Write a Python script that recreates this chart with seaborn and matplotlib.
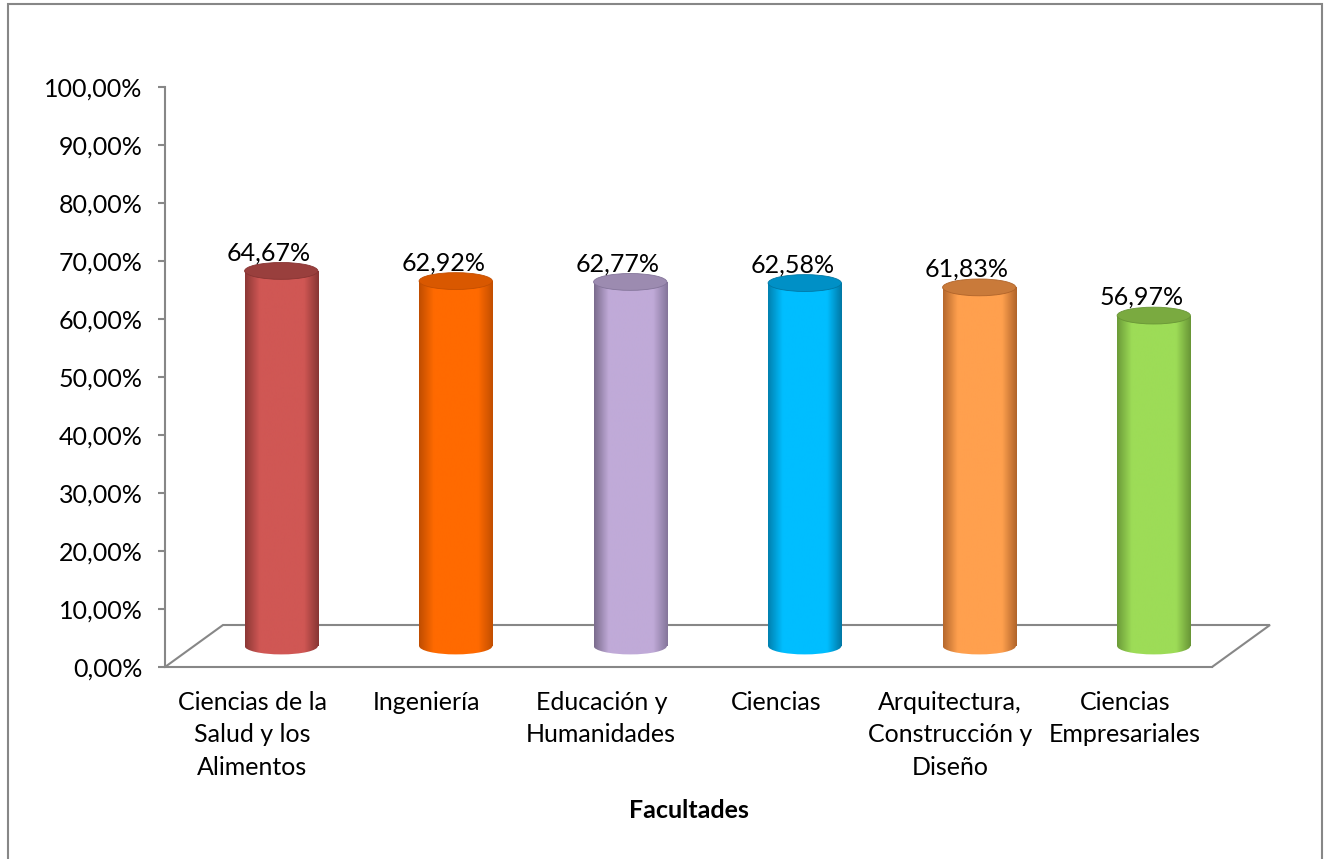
import numpy as np
import matplotlib
matplotlib.use('Agg')
import matplotlib.pyplot as plt
from matplotlib.colors import LinearSegmentedColormap
from matplotlib.patches import Ellipse, Rectangle
import seaborn as sns

# datos
facultades = ['Ciencias de la Salud y los Alimentos', 'Ingeniería',
              'Educación y Humanidades', 'Ciencias',
              'Arquitectura, Construcción y Diseño', 'Ciencias Empresariales']
etiquetas = ['Ciencias de la\nSalud y los\nAlimentos', 'Ingeniería',
             'Educación y\nHumanidades', 'Ciencias',
             'Arquitectura,\nConstrucción y\nDiseño', 'Ciencias\nEmpresariales']
porcentajes = [64.67, 62.92, 62.77, 62.58, 61.83, 56.97]
yticks = list(range(0, 101, 10))

# colores: borde izq, centro claro, borde der, tapa
colores = [
    ('#8C3836', '#D05754', '#873533', '#993F3D'),
    ('#BF4D00', '#FF6A00', '#C24E00', '#D95800'),
    ('#7A6B8C', '#C0AAD8', '#84759A', '#9C8BB0'),
    ('#0080AF', '#00BEFF', '#0077A4', '#0090C6'),
    ('#B5682D', '#FFA04E', '#B0642A', '#C97A3A'),
    ('#6B9B38', '#9DDC57', '#689536', '#7AAA40'),
]
gris = '#878787'

sns.set_style('white')
plt.rcParams['font.family'] = ['Lato', 'DejaVu Sans']
plt.rcParams['text.color'] = 'black'
plt.rcParams['xtick.color'] = 'black'
plt.rcParams['ytick.color'] = 'black'
fs = 18

PX, PY = 1325, 859
fig = plt.figure(figsize=(PX / 100, PY / 100), dpi=100)

# eje frontal (escala y suelo)
ax = fig.add_axes([165 / PX, (PY - 667) / PY, 1047 / PX, 580 / PY])
ax.set_xlim(-0.5, 5.5)
ax.set_ylim(0, 100)
ax.set_facecolor('none')
for s in ['top', 'right']:
    ax.spines[s].set_visible(False)
for s in ['left', 'bottom']:
    ax.spines[s].set_color(gris)
    ax.spines[s].set_linewidth(1.5)
ax.set_yticks(yticks)
ax.set_yticklabels([f'{v:.2f}'.replace('.', ',') + '%' for v in yticks], fontsize=fs)
ax.tick_params(axis='y', length=5, width=1.5, color=gris, labelcolor='black', pad=11, left=True)
ax.set_xticks(range(len(etiquetas)))
ax.set_xticklabels(etiquetas, fontsize=fs, linespacing=1.5)
ax.tick_params(axis='x', length=0, pad=17, labelcolor='black')
ax.set_xlabel('Facultades', fontsize=fs, fontweight='bold', va='center', color='black')
ax.xaxis.set_label_coords(0.5, -(810 - 667) / 580)

# suelo 3D
dx = 58 / (1047 / 6)
dy = 42 / 5.8
ax.plot([-0.5, -0.5 + dx, 5.5 + dx, 5.5], [0, dy, dy, 0], color=gris, lw=1.5,
        clip_on=False, solid_joinstyle='miter')

# eje de barras (a media profundidad)
bx = fig.add_axes([(165 + 29) / PX, (PY - 704) / PY, 1047 / PX, 638 / PY])
sns.barplot(x=facultades, y=porcentajes, hue=facultades, ax=bx, width=0.42,
            legend=False, palette=[c[1] for c in colores])
bx.axis('off')
bx.patch.set_alpha(0)

eh = 2.9  # alto de las elipses
grad = np.linspace(0, 1, 256).reshape(1, -1)
for p, c, v in zip(bx.patches, colores, porcentajes):
    x0, w = p.get_x(), p.get_width()
    xc = x0 + w / 2
    cmap = LinearSegmentedColormap.from_list(
        'g', [(0, c[0]), (0.2, c[1]), (0.55, c[1]), (0.8, c[1]), (1, c[2])])
    p.set_facecolor('none')
    p.set_edgecolor('none')
    base = Ellipse((xc, 0), w, eh, fc='none', ec='none')
    bx.add_patch(base)
    for clip in (p, base):
        im = bx.imshow(grad, cmap=cmap, aspect='auto', origin='lower',
                       extent=(x0, x0 + w, -eh, v), zorder=2, interpolation='bilinear')
        im.set_clip_path(clip)
    bx.add_patch(Ellipse((xc, v), w, eh, fc=c[3], ec=c[2], lw=0.6, zorder=3))
    bx.annotate(f'{v:.2f}'.replace('.', ',') + '%', (xc, v), xytext=(-9, 13),
                textcoords='offset points', ha='center', va='center', fontsize=fs)

bx.set_xlim(-0.5, 5.5)
bx.set_ylim(-10, 100)

# marco
fig.add_artist(Rectangle((8 / PX, -0.1), (1322 - 8) / PX, (PY - 4) / PY + 0.1,
                         transform=fig.transFigure, fill=False, ec=gris, lw=1.5))

fig.savefig('out.png', dpi=100)
